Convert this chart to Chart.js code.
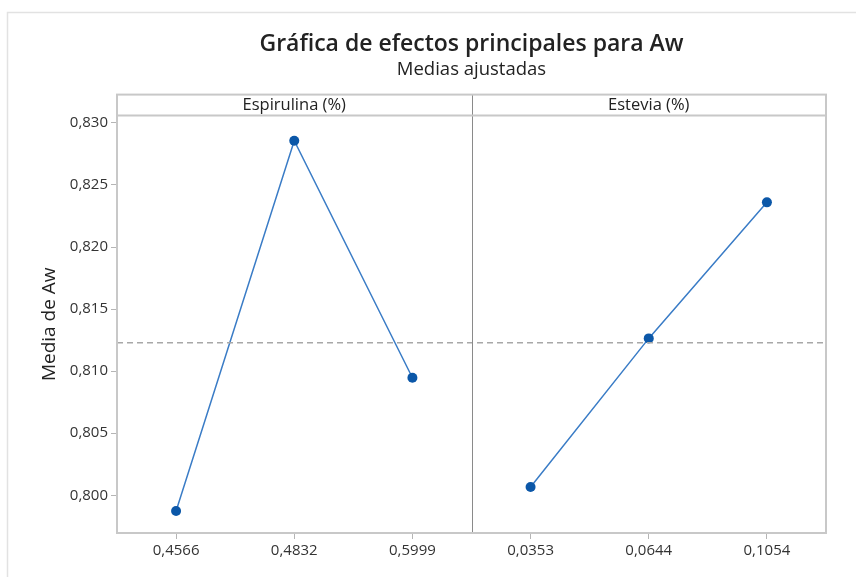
<!DOCTYPE html>
<html>
<head>
<meta charset="utf-8">
<script src="https://cdn.jsdelivr.net/npm/chart.js@4"></script>
<style>
  body { margin: 0; background: #fff; overflow: hidden; }
  canvas { display: block; }
</style>
</head>
<body>
<canvas id="effects-chart" width="856" height="577"></canvas>
<script>
// Panel factors and their levels
const panelNames = ['Espirulina (%)', 'Estevia (%)'];
const espirulinaLevels = ['0,4566', '0,4832', '0,5999'];
const esteviaLevels = ['0,0353', '0,0644', '0,1054'];

// Fitted means of Aw for each level
const espirulinaMeans = [0.79873, 0.82857, 0.80947];
const esteviaMeans = [0.80067, 0.81264, 0.82360];

// Grand mean (dashed reference line)
const meanAw = 0.81228;

// Y tick labels
const yTicks = [0.800, 0.805, 0.810, 0.815, 0.820, 0.825, 0.830];

const xLabels = espirulinaLevels.concat(esteviaLevels);

// Each panel sits on its own stretch of one linear x axis: 0..2 and 3..5
const espirulinaPoints = espirulinaMeans.map(function (v, i) {
  return { x: i, y: v };
});
const esteviaPoints = esteviaMeans.map(function (v, i) {
  return { x: i + espirulinaMeans.length, y: v };
});

const STRIP = 21;
const FONT = "'Open Sans', 'Noto Sans', sans-serif";

// Frame, panel strips and divider, like Minitab
const panelPlugin = {
  id: 'panels',
  beforeDraw: function (chart) {
    const ctx = chart.ctx;
    ctx.save();
    // faint outer border of the graph window
    ctx.strokeStyle = '#e2e2e2';
    ctx.lineWidth = 1.5;
    ctx.beginPath();
    ctx.moveTo(7.5, chart.height);
    ctx.lineTo(7.5, 12.5);
    ctx.lineTo(chart.width, 12.5);
    ctx.stroke();
    ctx.restore();
  },
  afterDatasetsDraw: function (chart) {
    const ctx = chart.ctx;
    const a = chart.chartArea;
    const x = chart.scales.x;
    const mid = x.getPixelForValue(2.5);
    ctx.save();
    // divider between the two panels
    ctx.strokeStyle = '#8a8a8a';
    ctx.lineWidth = 1;
    ctx.beginPath();
    ctx.moveTo(Math.round(mid) + 0.5, a.top - STRIP);
    ctx.lineTo(Math.round(mid) + 0.5, a.bottom);
    ctx.stroke();
    // strip bottom line
    ctx.strokeStyle = '#c8c8c8';
    ctx.lineWidth = 2;
    ctx.beginPath();
    ctx.moveTo(a.left, a.top);
    ctx.lineTo(a.right, a.top);
    ctx.stroke();
    // outer frame
    ctx.strokeRect(a.left, a.top - STRIP, a.right - a.left, a.bottom - a.top + STRIP);
    // strip labels
    ctx.fillStyle = '#222';
    ctx.font = '16.5px ' + FONT;
    ctx.textAlign = 'center';
    ctx.textBaseline = 'middle';
    ctx.fillText(panelNames[0], x.getPixelForValue(1), a.top - STRIP / 2);
    ctx.fillText(panelNames[1], x.getPixelForValue(4), a.top - STRIP / 2);
    ctx.restore();
  }
};

const lineStyle = {
  borderColor: '#3a7cc6',
  borderWidth: 1.5,
  backgroundColor: '#0b57a8',
  pointBackgroundColor: '#0b57a8',
  pointBorderColor: '#0b57a8',
  pointRadius: 5,
  pointBorderWidth: 0,
  tension: 0
};

new Chart(document.getElementById('effects-chart').getContext('2d'), {
  type: 'scatter',
  data: {
    datasets: [
      {
        label: 'Media',
        data: [{ x: -0.5, y: meanAw }, { x: 5.5, y: meanAw }],
        showLine: true,
        borderColor: '#a8a8a8',
        borderWidth: 1.5,
        borderDash: [6, 4],
        pointRadius: 0
      },
      Object.assign({ label: panelNames[0], data: espirulinaPoints, showLine: true }, lineStyle),
      Object.assign({ label: panelNames[1], data: esteviaPoints, showLine: true }, lineStyle)
    ]
  },
  options: {
    responsive: false,
    animation: false,
    layout: { padding: { left: 0, right: 30, top: 0, bottom: 0 } },
    plugins: {
      legend: { display: false },
      tooltip: { enabled: false },
      title: {
        display: true,
        fullSize: false,
        text: 'Gráfica de efectos principales para Aw',
        color: '#222',
        font: { family: FONT, size: 23, weight: '600', lineHeight: 1.2 },
        padding: { top: 30.2, bottom: 0 }
      },
      subtitle: {
        display: true,
        fullSize: false,
        text: 'Medias ajustadas',
        color: '#222',
        font: { family: FONT, size: 18.5, lineHeight: 1.2 },
        padding: { top: 1, bottom: 34.6 }
      }
    },
    scales: {
      x: {
        type: 'linear',
        min: -0.5,
        max: 5.5,
        afterBuildTicks: function (scale) {
          scale.ticks = xLabels.map(function (l, i) { return { value: i }; });
        },
        afterFit: function (scale) { scale.height = 44; },
        border: { display: false },
        grid: { drawOnChartArea: false, drawTicks: true, tickLength: 6, color: '#b5b5b5' },
        ticks: {
          color: '#333',
          font: { family: FONT, size: 15 },
          padding: 3,
          maxRotation: 0,
          callback: function (v) { return xLabels[v]; }
        }
      },
      y: {
        min: 0.79696,
        max: 0.83059,
        afterBuildTicks: function (scale) {
          scale.ticks = yTicks.map(function (v) { return { value: v }; });
        },
        afterFit: function (scale) { scale.width = 117; },
        border: { display: false },
        grid: { drawOnChartArea: false, drawTicks: true, tickLength: 6, color: '#b5b5b5' },
        ticks: {
          color: '#333',
          font: { family: FONT, size: 15 },
          padding: 3,
          callback: function (v) { return v.toFixed(3).replace('.', ','); }
        },
        title: {
          display: true,
          text: 'Media de Aw',
          color: '#222',
          font: { family: FONT, size: 19, lineHeight: 1.2 },
          padding: { top: 38.6, bottom: 0 }
        }
      }
    }
  },
  plugins: [panelPlugin]
});
</script>
</body>
</html>
